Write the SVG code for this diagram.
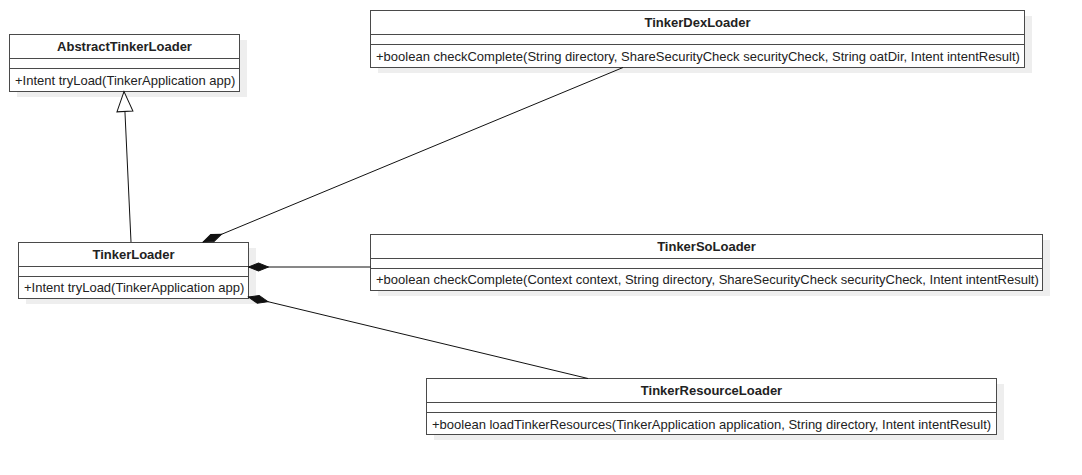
<svg xmlns="http://www.w3.org/2000/svg" width="1082" height="475" viewBox="0 0 1082 475">
<style>
.shadow{fill:#eeeeee;stroke:none}
.box{fill:#ffffff;stroke:#4a4a4a;stroke-width:1}
.sep{stroke:#4a4a4a;stroke-width:1}
.title{font-family:"Liberation Sans",Arial,sans-serif;font-size:13px;font-weight:bold;fill:#222222;text-anchor:middle}
.member{font-family:"Liberation Sans",Arial,sans-serif;font-size:13px;fill:#222222}
.edge{fill:none;stroke:#111111;stroke-width:1}
</style>
<defs>
<marker id="diamond" markerUnits="userSpaceOnUse" markerWidth="22" markerHeight="10" viewBox="0 0 22 10" refX="1" refY="5" orient="auto" overflow="visible">
<path d="M1,5 L11,1 L21,5 L11,9 Z" fill="#111111" stroke="#111111" stroke-width="1"/>
</marker>
<marker id="triangle" markerUnits="userSpaceOnUse" markerWidth="22" markerHeight="18" viewBox="0 0 22 18" refX="21" refY="9" orient="auto" overflow="visible">
<path d="M1,1 L21,9 L1,17 Z" fill="#ffffff" stroke="#111111" stroke-width="1"/>
</marker>
</defs>
<rect width="1082" height="475" fill="#ffffff"/>

<g id="AbstractTinkerLoader">
<rect class="shadow" x="17" y="40" width="230" height="57"/>
<rect class="box" x="9.5" y="34.5" width="230" height="57"/>
<line class="sep" x1="9.5" y1="58.5" x2="239.5" y2="58.5"/>
<line class="sep" x1="9.5" y1="68.5" x2="239.5" y2="68.5"/>
<text class="title" x="124.5" y="50.5">AbstractTinkerLoader</text>
<text class="member" x="15" y="84.5">+Intent tryLoad(TinkerApplication app)</text>
</g>

<g id="TinkerDexLoader">
<rect class="shadow" x="378" y="16" width="654" height="57"/>
<rect class="box" x="370.5" y="10.5" width="654" height="57"/>
<line class="sep" x1="370.5" y1="34.5" x2="1024.5" y2="34.5"/>
<line class="sep" x1="370.5" y1="44.5" x2="1024.5" y2="44.5"/>
<text class="title" x="697.5" y="26.5">TinkerDexLoader</text>
<text class="member" x="376" y="60.5">+boolean checkComplete(String directory, ShareSecurityCheck securityCheck, String oatDir, Intent intentResult)</text>
</g>

<g id="TinkerLoader">
<rect class="shadow" x="26" y="248" width="230" height="56"/>
<rect class="box" x="18.5" y="242.5" width="230" height="56"/>
<line class="sep" x1="18.5" y1="266.5" x2="248.5" y2="266.5"/>
<line class="sep" x1="18.5" y1="276.5" x2="248.5" y2="276.5"/>
<text class="title" x="133.5" y="258.5">TinkerLoader</text>
<text class="member" x="24" y="292">+Intent tryLoad(TinkerApplication app)</text>
</g>

<g id="TinkerSoLoader">
<rect class="shadow" x="378" y="240" width="672" height="56"/>
<rect class="box" x="370.5" y="234.5" width="672" height="56"/>
<line class="sep" x1="370.5" y1="258.5" x2="1042.5" y2="258.5"/>
<line class="sep" x1="370.5" y1="268.5" x2="1042.5" y2="268.5"/>
<text class="title" x="706.5" y="250.5">TinkerSoLoader</text>
<text class="member" x="376" y="284">+boolean checkComplete(Context context, String directory, ShareSecurityCheck securityCheck, Intent intentResult)</text>
</g>

<g id="TinkerResourceLoader">
<rect class="shadow" x="434" y="384" width="570" height="56"/>
<rect class="box" x="426.5" y="378.5" width="570" height="56"/>
<line class="sep" x1="426.5" y1="402.5" x2="996.5" y2="402.5"/>
<line class="sep" x1="426.5" y1="412.5" x2="996.5" y2="412.5"/>
<text class="title" x="711.5" y="394.5">TinkerResourceLoader</text>
<text class="member" x="432" y="428.5">+boolean loadTinkerResources(TinkerApplication application, String directory, Intent intentResult)</text>
</g>

<g id="connectors">
<path class="edge" d="M131,242 L124,91.5" marker-end="url(#triangle)"/>
<path class="edge" d="M203,242 L623,67.5"  marker-start="url(#diamond)"/>
<path class="edge" d="M248.5,267 L370.5,267" marker-start="url(#diamond)"/>
<path class="edge" d="M248.5,297 L588,378.5" marker-start="url(#diamond)"/>
</g>
</svg>
